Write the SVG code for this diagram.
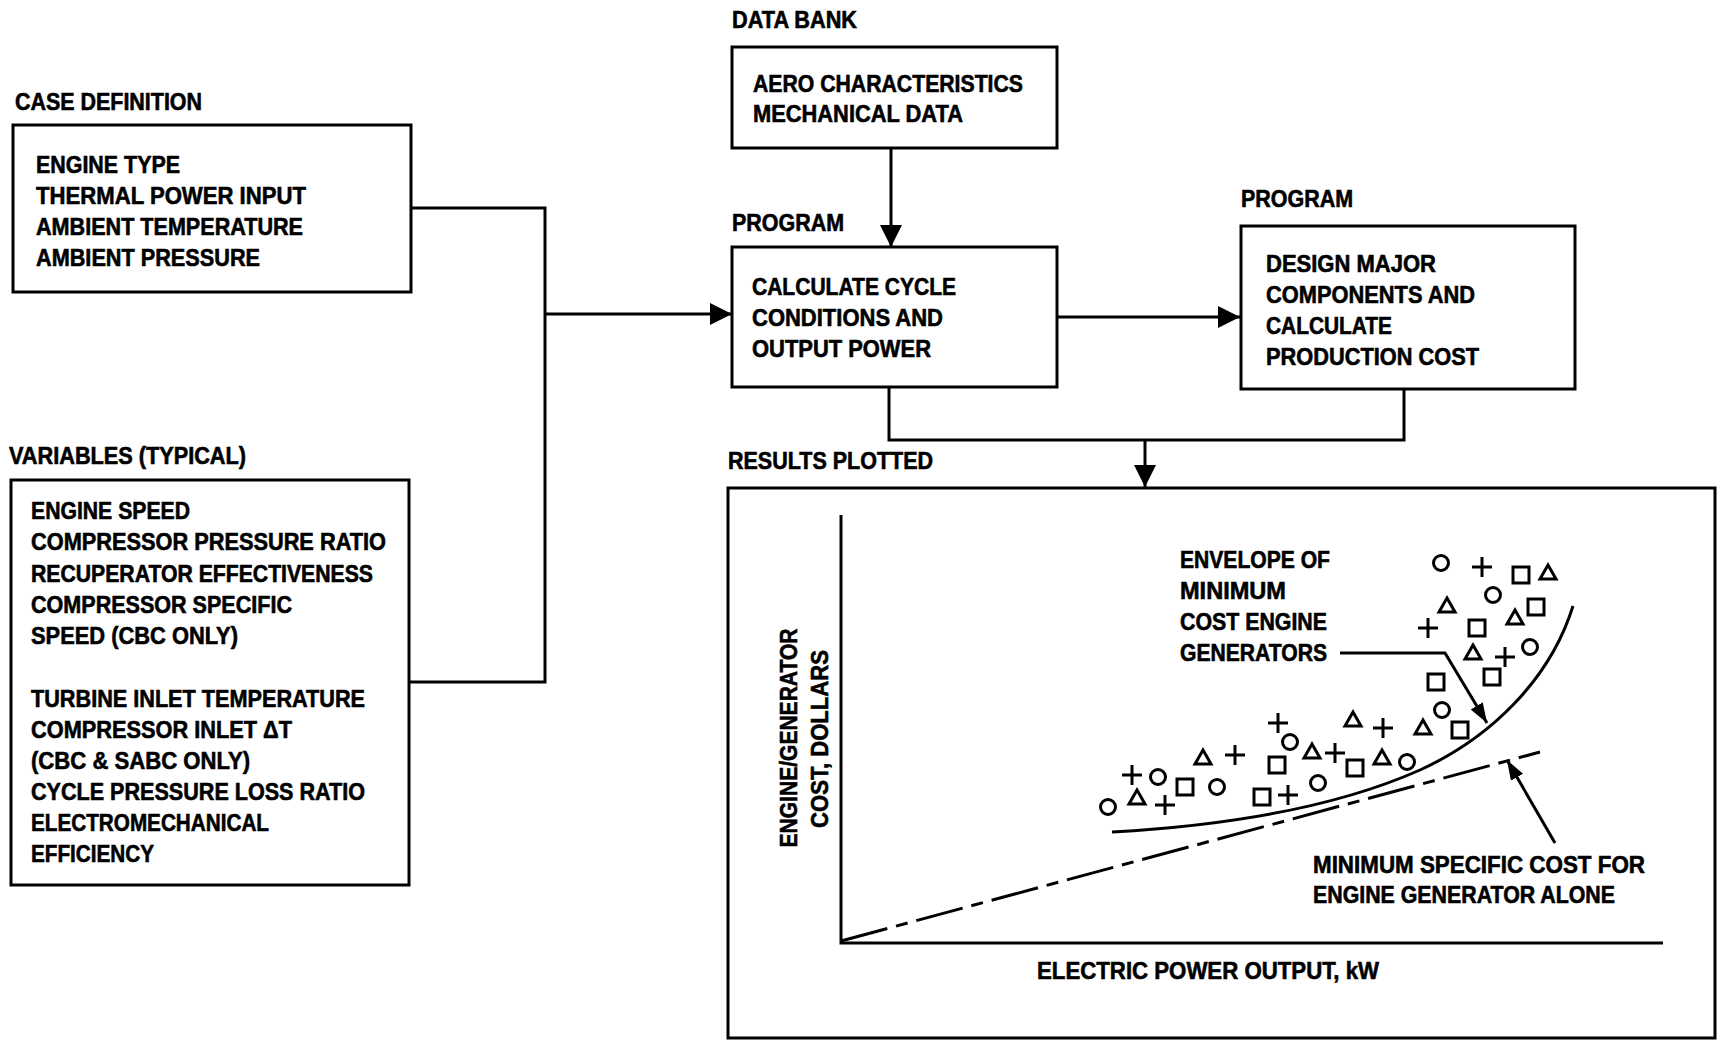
<svg xmlns="http://www.w3.org/2000/svg" xmlns:xlink="http://www.w3.org/1999/xlink" width="1719" height="1043" viewBox="0 0 1719 1043">
<style>
text{font-family:"Liberation Sans",Arial,sans-serif;font-weight:bold;font-size:24px;fill:#000;stroke:#000;stroke-width:0.6}
.box{fill:#fff;stroke:#000;stroke-width:3}
.ln{fill:none;stroke:#000;stroke-width:3}
.mk{fill:none;stroke:#000;stroke-width:3}
</style>
<defs>
<marker id="ah" markerUnits="userSpaceOnUse" markerWidth="24" markerHeight="24" refX="22" refY="11" orient="auto"><path d="M0,0 L22,11 L0,22 Z" fill="#000"/></marker>
<marker id="ahs" markerUnits="userSpaceOnUse" markerWidth="22" markerHeight="16" refX="20" refY="7" orient="auto"><path d="M0,0 L20,7 L0,14 Z" fill="#000"/></marker>
<circle id="o" r="7.5" class="mk"/>
<path id="p" d="M-10,0 H10 M0,-10 V10" class="mk"/>
<rect id="s" x="-8" y="-8" width="16" height="16" class="mk"/>
<path id="t" d="M0,-8 L8,6 L-8,6 Z" class="mk"/>
</defs>

<g id="connectors">
<path class="ln" d="M411,208 H545 V682 H409"/>
<path class="ln" d="M545,314 H732" marker-end="url(#ah)"/>
<path class="ln" d="M891,148 V247" marker-end="url(#ah)"/>
<path class="ln" d="M1057,317 H1240" marker-end="url(#ah)"/>
<path class="ln" d="M889,387 V440 H1404 V389"/>
<path class="ln" d="M1145,440 V487" marker-end="url(#ah)"/>
</g>

<g id="case-definition">
<text x="15" y="110" textLength="187" lengthAdjust="spacingAndGlyphs">CASE DEFINITION</text>
<rect class="box" x="13" y="125" width="398" height="167"/>
<text x="36" y="173" textLength="144" lengthAdjust="spacingAndGlyphs">ENGINE TYPE</text>
<text x="36" y="204" textLength="270" lengthAdjust="spacingAndGlyphs">THERMAL POWER INPUT</text>
<text x="36" y="235" textLength="267" lengthAdjust="spacingAndGlyphs">AMBIENT TEMPERATURE</text>
<text x="36" y="266" textLength="224" lengthAdjust="spacingAndGlyphs">AMBIENT PRESSURE</text>
</g>

<g id="variables">
<text x="9" y="464" textLength="237" lengthAdjust="spacingAndGlyphs">VARIABLES (TYPICAL)</text>
<rect class="box" x="11" y="480" width="398" height="405"/>
<text x="31" y="519" textLength="159" lengthAdjust="spacingAndGlyphs">ENGINE SPEED</text>
<text x="31" y="550" textLength="355" lengthAdjust="spacingAndGlyphs">COMPRESSOR PRESSURE RATIO</text>
<text x="31" y="582" textLength="342" lengthAdjust="spacingAndGlyphs">RECUPERATOR EFFECTIVENESS</text>
<text x="31" y="613" textLength="261" lengthAdjust="spacingAndGlyphs">COMPRESSOR SPECIFIC</text>
<text x="31" y="644" textLength="207" lengthAdjust="spacingAndGlyphs">SPEED (CBC ONLY)</text>
<text x="31" y="707" textLength="334" lengthAdjust="spacingAndGlyphs">TURBINE INLET TEMPERATURE</text>
<text x="31" y="738" textLength="261" lengthAdjust="spacingAndGlyphs">COMPRESSOR INLET ΔT</text>
<text x="31" y="769" textLength="219" lengthAdjust="spacingAndGlyphs">(CBC &amp; SABC ONLY)</text>
<text x="31" y="800" textLength="334" lengthAdjust="spacingAndGlyphs">CYCLE PRESSURE LOSS RATIO</text>
<text x="31" y="831" textLength="238" lengthAdjust="spacingAndGlyphs">ELECTROMECHANICAL</text>
<text x="31" y="862" textLength="123" lengthAdjust="spacingAndGlyphs">EFFICIENCY</text>
</g>

<g id="data-bank">
<text x="732" y="28" textLength="125" lengthAdjust="spacingAndGlyphs">DATA BANK</text>
<rect class="box" x="732" y="47" width="325" height="101"/>
<text x="753" y="92" textLength="270" lengthAdjust="spacingAndGlyphs">AERO CHARACTERISTICS</text>
<text x="753" y="122" textLength="210" lengthAdjust="spacingAndGlyphs">MECHANICAL DATA</text>
</g>

<g id="program-cycle">
<text x="732" y="231" textLength="112" lengthAdjust="spacingAndGlyphs">PROGRAM</text>
<rect class="box" x="732" y="247" width="325" height="140"/>
<text x="752" y="295" textLength="204" lengthAdjust="spacingAndGlyphs">CALCULATE CYCLE</text>
<text x="752" y="326" textLength="191" lengthAdjust="spacingAndGlyphs">CONDITIONS AND</text>
<text x="752" y="357" textLength="179" lengthAdjust="spacingAndGlyphs">OUTPUT POWER</text>
</g>

<g id="program-design">
<text x="1241" y="207" textLength="112" lengthAdjust="spacingAndGlyphs">PROGRAM</text>
<rect class="box" x="1241" y="226" width="334" height="163"/>
<text x="1266" y="272" textLength="170" lengthAdjust="spacingAndGlyphs">DESIGN MAJOR</text>
<text x="1266" y="303" textLength="209" lengthAdjust="spacingAndGlyphs">COMPONENTS AND</text>
<text x="1266" y="334" textLength="126" lengthAdjust="spacingAndGlyphs">CALCULATE</text>
<text x="1266" y="365" textLength="213" lengthAdjust="spacingAndGlyphs">PRODUCTION COST</text>
</g>

<g id="results-plotted">
<text x="728" y="469" textLength="205" lengthAdjust="spacingAndGlyphs">RESULTS PLOTTED</text>
<rect class="box" x="728" y="488" width="987" height="550"/>
<path class="ln" d="M841,515 V943 H1663"/>
<text transform="translate(797,738) rotate(-90)" text-anchor="middle" textLength="219" lengthAdjust="spacingAndGlyphs">ENGINE/GENERATOR</text>
<text transform="translate(828,739) rotate(-90)" text-anchor="middle" textLength="178" lengthAdjust="spacingAndGlyphs">COST, DOLLARS</text>
<text x="1037" y="979" textLength="342" lengthAdjust="spacingAndGlyphs">ELECTRIC POWER OUTPUT, kW</text>
<path class="ln" d="M841,941 L1540,752" stroke-dasharray="48 9 12 9"/>
<path class="ln" d="M1112,832 C1220,826 1330,810 1420,770 C1490,738 1550,680 1573,606"/>
<text x="1180" y="568" textLength="150" lengthAdjust="spacingAndGlyphs">ENVELOPE OF</text>
<text x="1180" y="599" textLength="106" lengthAdjust="spacingAndGlyphs">MINIMUM</text>
<text x="1180" y="630" textLength="147" lengthAdjust="spacingAndGlyphs">COST ENGINE</text>
<text x="1180" y="661" textLength="147" lengthAdjust="spacingAndGlyphs">GENERATORS</text>
<path class="ln" d="M1340,653 H1445 L1487,723" marker-end="url(#ahs)"/>
<text x="1313" y="873" textLength="332" lengthAdjust="spacingAndGlyphs">MINIMUM SPECIFIC COST FOR</text>
<text x="1313" y="903" textLength="302" lengthAdjust="spacingAndGlyphs">ENGINE GENERATOR ALONE</text>
<path class="ln" d="M1555,843 L1507,760" marker-end="url(#ahs)"/>
<g id="data-points">
<use xlink:href="#o" x="1441" y="563"/><use xlink:href="#p" x="1482" y="567"/><use xlink:href="#s" x="1521" y="575"/><use xlink:href="#t" x="1548" y="573"/>
<use xlink:href="#o" x="1493" y="595"/><use xlink:href="#t" x="1447" y="606"/><use xlink:href="#s" x="1536" y="607"/>
<use xlink:href="#p" x="1428" y="628"/><use xlink:href="#s" x="1477" y="628"/><use xlink:href="#t" x="1515" y="618"/>
<use xlink:href="#t" x="1473" y="653"/><use xlink:href="#p" x="1505" y="657"/><use xlink:href="#o" x="1530" y="647"/>
<use xlink:href="#s" x="1436" y="682"/><use xlink:href="#s" x="1492" y="677"/>
<use xlink:href="#o" x="1442" y="710"/><use xlink:href="#t" x="1423" y="728"/><use xlink:href="#s" x="1460" y="730"/>
<use xlink:href="#t" x="1353" y="720"/><use xlink:href="#p" x="1383" y="728"/>
<use xlink:href="#p" x="1278" y="723"/><use xlink:href="#o" x="1290" y="742"/><use xlink:href="#t" x="1312" y="752"/><use xlink:href="#p" x="1335" y="753"/><use xlink:href="#s" x="1277" y="765"/>
<use xlink:href="#s" x="1355" y="768"/><use xlink:href="#t" x="1382" y="758"/><use xlink:href="#o" x="1407" y="762"/>
<use xlink:href="#o" x="1318" y="783"/><use xlink:href="#p" x="1288" y="795"/><use xlink:href="#s" x="1262" y="797"/>
<use xlink:href="#p" x="1132" y="775"/><use xlink:href="#o" x="1158" y="777"/><use xlink:href="#s" x="1185" y="787"/><use xlink:href="#o" x="1217" y="787"/>
<use xlink:href="#t" x="1203" y="758"/><use xlink:href="#p" x="1235" y="755"/>
<use xlink:href="#o" x="1108" y="807"/><use xlink:href="#t" x="1137" y="798"/><use xlink:href="#p" x="1165" y="805"/>
</g>
</g>
</svg>
